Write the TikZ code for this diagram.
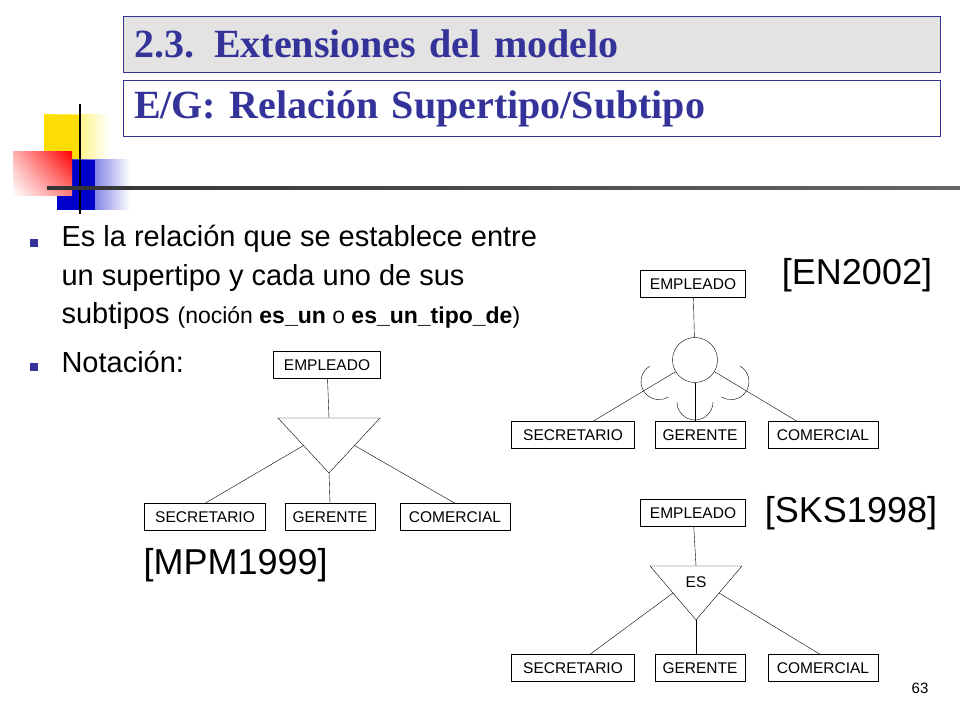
\documentclass[tikz,border=0pt]{standalone}
\usepackage{fontspec}
\setmainfont{Liberation Serif}
\setsansfont{Liberation Sans}
\usetikzlibrary{calc,positioning,shadings}
\definecolor{titleblue}{HTML}{333399}
\definecolor{titlegray}{HTML}{E3E3E3}
\tikzset{
  ent/.style={rectangle, draw, thin, inner xsep=2pt, minimum height=27pt, font=\sffamily\fontsize{15.5}{15.5}\selectfont},
  title/.style={rectangle, draw=titleblue, thin, minimum width=817pt, minimum height=56pt, text width=795pt, font=\bfseries\fontsize{40}{40}\selectfont, text=titleblue},
  cite/.style={font=\sffamily\fontsize{36}{36}\selectfont},
  bul/.style={font=\sffamily\fontsize{29}{38.5}\selectfont, anchor=north west, align=left},
  link/.style={draw, thin}
}
\begin{document}
\begin{tikzpicture}[x=1pt,y=1pt]
	\useasboundingbox (0,0) rectangle (960,720);
	%% decoration
	\shade[left color=yellow!80!orange, right color=white] (44,605) rectangle (110,535);
	\fill[yellow!80!orange] (44,605) rectangle (80,535);
	\shade[left color=blue!80!black, right color=white] (57,560) rectangle (130,510);
	\fill[blue!80!black] (57,560) rectangle (95,510);
	\shade[upper right=red, lower left=white, upper left=red!30, lower right=red!50] (13,568) rectangle (72,524);
	\draw[line width=2.5pt] (80,616) -- (80,506);
	\shade[left color=black!80, right color=black!60] (47,533.5) rectangle (960,530.5);
	%% titles
	\node[title, fill=titlegray] (T1) at (531.5,676) {2.3. Extensiones del modelo};
	\node[title, fill=white] (T2) at (531.5,611.5) {E/G: Relación Supertipo/Subtipo};
	%% bullets
	\fill[titleblue] (30,481) rectangle (38,473);
	\fill[titleblue] (30,357) rectangle (38,349);
	\node[bul] (B1) at (58,498) {Es la relación que se establece entre\\un supertipo y cada uno de sus\\subtipos {\fontsize{23}{23}\selectfont(noción \textbf{es\_un} o \textbf{es\_un\_tipo\_de})}};
	\node[bul] (B2) at (58,372) {Notación:};
	%% MPM1999
	\node[ent, minimum width=107pt] (E1) at (327,355) {EMPLEADO};
	\coordinate (t1l) at (278,302);
	\coordinate (t1r) at (380,302);
	\coordinate (t1a) at (329,247);
	\draw (t1l) -- (t1r) -- (t1a) -- cycle;
	\node[ent, minimum width=121pt] (S1) at (205,203) {SECRETARIO};
	\node[ent, minimum width=90pt] (G1) at (330,203) {GERENTE};
	\node[ent, minimum width=110pt] (C1) at (455,203) {COMERCIAL};
	\path[link] (E1) -- (329,302);
	\path[link] ($(t1l)!0.5!(t1a)$) -- (S1.north);
	\path[link] (t1a) -- (G1.north);
	\path[link] ($(t1r)!0.5!(t1a)$) -- (C1.north);
	\node[cite, anchor=west] (M1) at (140,155) {[MPM1999]};
	%% EN2002
	\node[ent, minimum width=105pt] (E2) at (693,436) {EMPLEADO};
	\node[circle, draw, minimum size=45pt, inner sep=0pt] (O2) at (695,360) {};
	\node[ent, minimum width=123pt] (S2) at (573,285) {SECRETARIO};
	\node[ent, minimum width=90pt] (G2) at (700,285) {GERENTE};
	\node[ent, minimum width=110pt] (C2) at (823,285) {COMERCIAL};
	\path[link] (E2) -- (O2);
	\path[link] (O2) -- ($(S2.north)+(20,0)$);
	\path[link] (O2) -- (G2.north -| O2);
	\path[link] (O2) -- ($(C2.north)+(-26,0)$);
	\foreach \ang in {211,270,329}
		\draw (O2.center) ++(\ang:42) ++(\ang-90:18) arc[start angle=\ang-90, delta angle=180, radius=18];
	\node[cite] (N2) at (857,445) {[EN2002]};
	%% SKS1998
	\node[ent, minimum width=105pt] (E3) at (693,207) {EMPLEADO};
	\coordinate (t3l) at (650,154);
	\coordinate (t3r) at (742,154);
	\coordinate (t3a) at (696,100);
	\draw (t3l) -- (t3r) -- (t3a) -- cycle;
	\node[font=\sffamily\fontsize{15.5}{15.5}\selectfont] (ES) at (696,138) {ES};
	\node[ent, minimum width=123pt] (S3) at (573,52) {SECRETARIO};
	\node[ent, minimum width=90pt] (G3) at (700,52) {GERENTE};
	\node[ent, minimum width=110pt] (C3) at (823,52) {COMERCIAL};
	\path[link] (E3) -- (696,154);
	\path[link] ($(t3l)!0.5!(t3a)$) -- ($(S3.north)+(17,0)$);
	\path[link] (t3a) -- (G3.north -| t3a);
	\path[link] ($(t3r)!0.5!(t3a)$) -- ($(C3.north)+(-3,0)$);
	\node[cite] (K3) at (851,207) {[SKS1998]};
	%% page number
	\node[font=\sffamily\fontsize{15}{15}\selectfont] (P) at (920,32) {63};
\end{tikzpicture}
\end{document}
